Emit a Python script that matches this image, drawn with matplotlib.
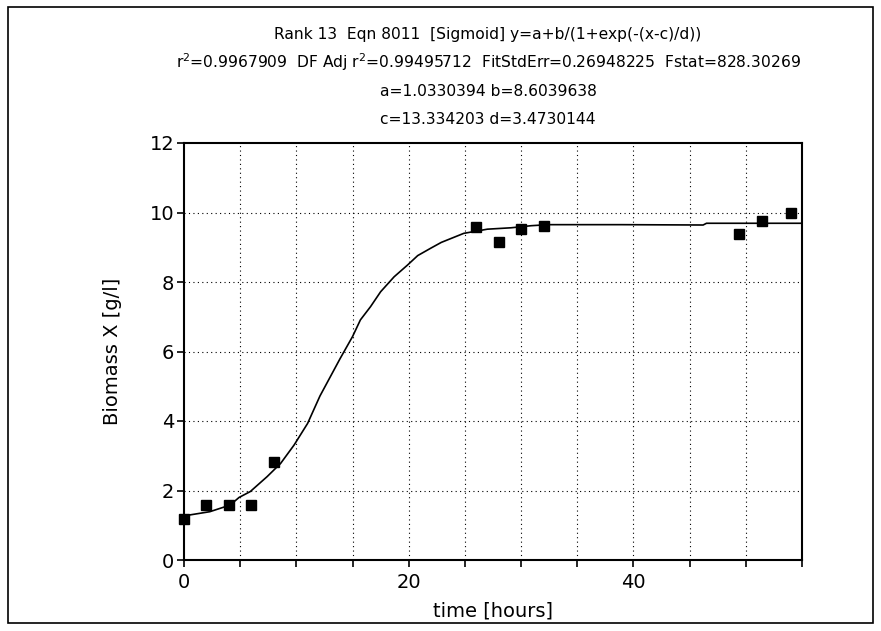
import matplotlib
matplotlib.use("Agg")
import matplotlib.pyplot as plt
from matplotlib.patches import Rectangle

# measured points
time_h = [0, 2, 4, 6, 8, 26, 28, 30, 32, 49.4, 51.4, 54]
biomass = [1.18, 1.58, 1.58, 1.58, 2.81, 9.57, 9.16, 9.53, 9.62, 9.39, 9.76, 9.98]

# fitted sigmoid
curve_x = [0, 2.3, 4.1, 4.9, 5.9, 7.4, 8.6, 9.8, 11.0, 12.1, 13.9, 15.0, 15.7,
           16.6, 17.5, 18.7, 19.9, 20.8, 22.0, 22.9, 24.9, 27.0, 29.1, 30.9, 32.4,
           38.9, 46.2, 46.5, 55.0]
curve_y = [1.27, 1.39, 1.58, 1.80, 1.97, 2.40, 2.78, 3.31, 3.93, 4.72, 5.80, 6.43,
           6.91, 7.29, 7.72, 8.15, 8.49, 8.76, 8.98, 9.14, 9.40, 9.52, 9.56, 9.62, 9.65,
           9.65, 9.64, 9.69, 9.69]

title_lines = ["Rank 13  Eqn 8011  [Sigmoid] y=a+b/(1+exp(-(x-c)/d))",
               "r$^2$=0.9967909  DF Adj r$^2$=0.99495712  FitStdErr=0.26948225  Fstat=828.30269",
               "a=1.0330394 b=8.6039638",
               "c=13.334203 d=3.4730144"]
x_ticks = [0, 5, 10, 15, 20, 25, 30, 35, 40, 45, 50, 55]
x_labels = ["0", "", "", "", "20", "", "", "", "40", "", "", ""]
y_ticks = [0, 2, 4, 6, 8, 10, 12]

W, H = 881, 631
fig = plt.figure(figsize=(W / 100, H / 100), dpi=100)
ax = fig.add_axes([184 / W, 1 - 560 / H, (802 - 184) / W, (560 - 143) / H])

ax.plot(curve_x, curve_y, color="black", lw=1.2, zorder=3)
ax.plot(time_h, biomass, "s", color="black", ms=7, zorder=4, clip_on=False)

ax.set_xlim(0, 55)
ax.set_ylim(0, 12)
ax.set_xticks(x_ticks)
ax.set_xticklabels(x_labels)
ax.set_yticks(y_ticks)
ax.tick_params(labelsize=14, length=5, width=1.2, direction="out")
ax.tick_params(axis="x", pad=4)
ax.tick_params(axis="y", pad=2)
for s in ax.spines.values():
    s.set_linewidth(1.5)

# dotted grid, skip the edges
for gx in x_ticks[1:-1]:
    ax.axvline(gx, color="black", lw=0.8, ls=(0, (1, 3)), zorder=1)
for gy in y_ticks[1:-1]:
    ax.axhline(gy, color="black", lw=0.8, ls=(0, (1, 3)), zorder=1)

ax.set_xlabel("time [hours]", fontsize=14, labelpad=7)
ax.set_ylabel("Biomass X [g/l]", fontsize=14, labelpad=20)

cx = 488 / W
for i, line in enumerate(title_lines):
    fig.text(cx, 1 - (34 + 28.5 * i) / H, line, ha="center", va="center", fontsize=11.2)

fig.patches.append(Rectangle((8 / W, 1 - 623 / H), (873 - 8) / W, (623 - 7) / H,
                             transform=fig.transFigure, fill=False, lw=1.2, ec="black"))

fig.savefig("out.png", dpi=100)
